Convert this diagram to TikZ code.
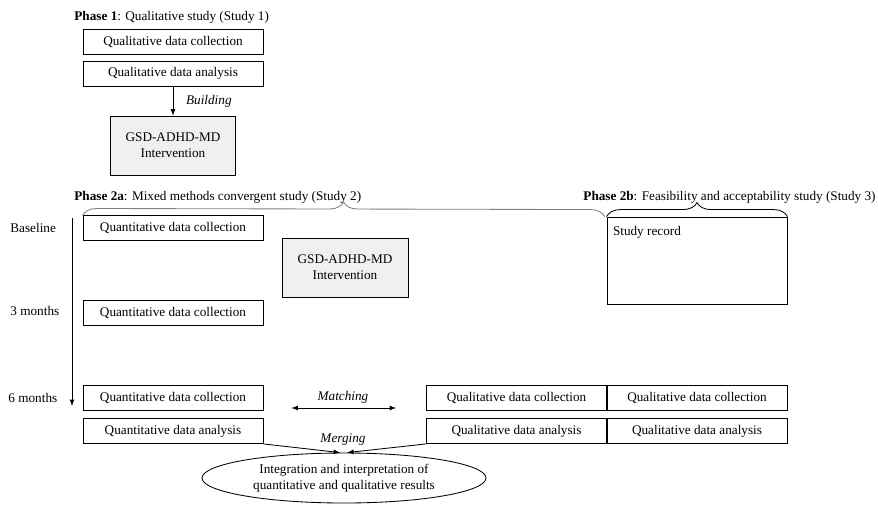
\documentclass[tikz,border=0pt]{standalone}
\usepackage{fontspec}
\setmainfont{Liberation Serif}
\usetikzlibrary{decorations.pathreplacing,arrows,positioning,shapes}

\tikzset{
  box/.style={draw, minimum width=4.5cm, minimum height=0.625cm, inner sep=0pt},
  interv/.style={draw, fill=gray!12, minimum width=3.125cm, minimum height=1.475cm, align=center},
  lbl/.style={anchor=west, inner sep=0pt},
  ital/.style={font=\fontsize{9.4}{11.3}\selectfont\itshape},
}

\begin{document}
\begin{tikzpicture}[font=\fontsize{9.4}{11.3}\selectfont, line width=0.6pt]
    \useasboundingbox (0,0) rectangle (21.95,-12.625);

    % phase 1
    \node[lbl] (ph1) at (1.85,-0.425) {\textbf{Phase 1}: Qualitative study (Study 1)};
    \node[box] (qlcoll1) at (4.325,-1.04) {Qualitative data collection};
    \node[box] (qlana1) at (4.325,-1.84) {Qualitative data analysis};
    \node[interv] (interv1) at (4.325,-3.64) {GSD-ADHD-MD\\Intervention};
    \draw[-latex] (qlana1) -- (interv1) node[midway, right=0.2cm, ital] {Building};

    % phase 2a and 2b
    \node[lbl] (ph2a) at (1.85,-4.925) {\textbf{Phase 2a}: Mixed methods convergent study (Study 2)};
    \node[lbl] (ph2b) at (14.575,-4.925) {\textbf{Phase 2b}: Feasibility and acceptability study (Study 3)};

    \node[box] (qncoll1) at (4.325,-5.71) {Quantitative data collection};
    \node[interv, minimum width=3.15cm] (interv2) at (8.625,-6.69) {GSD-ADHD-MD\\Intervention};
    \node[box] (qncoll2) at (4.325,-7.83) {Quantitative data collection};
    \node[box] (qncoll3) at (4.325,-9.95) {Quantitative data collection};
    \node[box] (qnana) at (4.325,-10.775) {Quantitative data analysis};

    \node[box] (qlcoll2) at (12.9125,-9.95) {Qualitative data collection};
    \node[box] (qlcoll3) at (17.425,-9.95) {Qualitative data collection};
    \node[box] (qlana2) at (12.9125,-10.775) {Qualitative data analysis};
    \node[box] (qlana3) at (17.425,-10.775) {Qualitative data analysis};

    \node[box, minimum height=2.175cm] (record) at (17.425,-6.5125) {};
    \node[lbl] (recordtxt) at ([xshift=0.15cm,yshift=-0.4cm]record.north west) {Study record};

    \draw[gray, decorate, decoration={brace, amplitude=0.35cm}] (qncoll1.north west) -- ([xshift=-0.05cm]record.north west);
    \draw[decorate, decoration={brace, amplitude=0.35cm}] (record.north west) -- (record.north east);

    % time line
    \node[lbl] (base) at (0.25,-5.7) {Baseline};
    \node[lbl] (m3) at (0.25,-7.775) {3 months};
    \node[lbl] (m6) at (0.2,-9.95) {6 months};
    \coordinate (tltop) at (1.8,-5.45);
    \coordinate (tlbot) at (1.8,-10.15);
    \draw[-latex] (tltop) -- (tlbot);

    % matching and merging
    \draw[latex-latex, shorten <=0.7cm, shorten >=0.75cm] ([yshift=-0.25cm]qncoll3.east) -- ([yshift=-0.25cm]qlcoll2.west);
    \node[ital] (match) at (8.575,-9.925) {Matching};
    \node[ital] (merge) at (8.575,-11.0) {Merging};

    \node[draw, ellipse, minimum width=7.1cm, minimum height=1.25cm, align=center, inner sep=0pt] (integ) at (8.6,-11.95) {Integration and interpretation of\\quantitative and qualitative results};
    \draw[-latex] (qnana.south east) -- ([xshift=-0.1cm]integ.north);
    \draw[-latex] (qlana2.south west) -- ([xshift=0.08cm]integ.north);

  \end{tikzpicture}
\end{document}
